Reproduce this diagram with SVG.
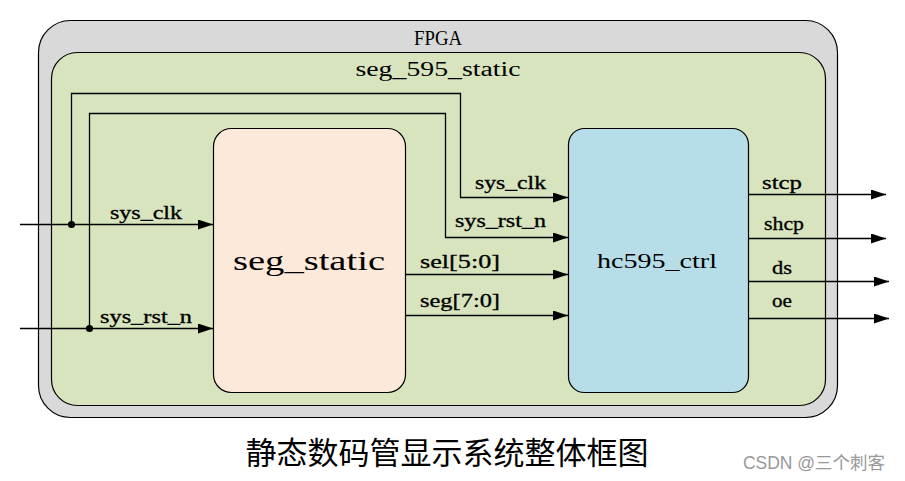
<svg xmlns="http://www.w3.org/2000/svg" width="905" height="481" viewBox="0 0 905 481">
<style>
.box{stroke:#000;stroke-width:1.2}
.w{fill:none;stroke:#000;stroke-width:1.3}
.lbl{font-family:"Liberation Serif",serif;font-size:18px;fill:#000;font-weight:normal;stroke:#000;stroke-width:0.3}
.t{font-family:"Liberation Serif",serif;fill:#000;text-anchor:middle}
</style>
<defs>
<marker id="arr" markerUnits="userSpaceOnUse" markerWidth="16" markerHeight="11" refX="15" refY="5" orient="auto">
<path d="M0,0 L15,5 L0,10 z" fill="#000"/>
</marker>
</defs>
<rect width="905" height="481" fill="#fff"/>
<g id="fpga">
<rect class="box" x="38.5" y="20.5" width="799" height="397" rx="32" fill="#d9d9d9"/>
<text class="t" x="438" y="45" font-size="20" textLength="48" lengthAdjust="spacingAndGlyphs">FPGA</text>
</g>
<g id="seg_595_static">
<rect class="box" x="51.5" y="52.5" width="774" height="353" rx="26" fill="#d7e4bd"/>
<text class="t" x="438" y="76" font-size="20" textLength="165" lengthAdjust="spacingAndGlyphs">seg_595_static</text>
</g>
<g id="seg_static">
<rect class="box" x="213.5" y="128.5" width="192" height="264" rx="18" fill="#fde9d9"/>
<text class="t" x="309" y="270" font-size="28" textLength="152" lengthAdjust="spacingAndGlyphs">seg_static</text>
</g>
<g id="hc595_ctrl">
<rect class="box" x="568.5" y="128.5" width="180" height="264" rx="16" fill="#b7dde8"/>
<text class="t" x="657" y="268" font-size="22" textLength="120" lengthAdjust="spacingAndGlyphs">hc595_ctrl</text>
</g>
<g id="connectors">
<path class="w" d="M20,224.5 H213" marker-end="url(#arr)"/>
<path class="w" d="M20,328.5 H213" marker-end="url(#arr)"/>
<path class="w" d="M71.5,224.5 V93.5 H460.5 V197.5 H568" marker-end="url(#arr)"/>
<path class="w" d="M89.5,328.5 V113.5 H445.5 V237.5 H568" marker-end="url(#arr)"/>
<circle cx="71.5" cy="224.5" r="3.6" fill="#000"/>
<circle cx="89.5" cy="328.5" r="3.6" fill="#000"/>
<path class="w" d="M405,274.5 H568" marker-end="url(#arr)"/>
<path class="w" d="M405,315.5 H568" marker-end="url(#arr)"/>
<path class="w" d="M748,194.5 H886" marker-end="url(#arr)"/>
<path class="w" d="M748,238.5 H886" marker-end="url(#arr)"/>
<path class="w" d="M748,281.5 H889" marker-end="url(#arr)"/>
<path class="w" d="M748,318.5 H889" marker-end="url(#arr)"/>
<text class="lbl" x="110" y="219" textLength="72" lengthAdjust="spacingAndGlyphs">sys_clk</text>
<text class="lbl" x="100" y="323" textLength="92" lengthAdjust="spacingAndGlyphs">sys_rst_n</text>
<text class="lbl" x="475" y="189" textLength="71" lengthAdjust="spacingAndGlyphs">sys_clk</text>
<text class="lbl" x="455" y="227" textLength="91" lengthAdjust="spacingAndGlyphs">sys_rst_n</text>
<text class="lbl" x="420" y="268" textLength="80" lengthAdjust="spacingAndGlyphs">sel[5:0]</text>
<text class="lbl" x="420" y="307" textLength="80" lengthAdjust="spacingAndGlyphs">seg[7:0]</text>
<text class="lbl" x="762" y="189" textLength="40" lengthAdjust="spacingAndGlyphs">stcp</text>
<text class="lbl" x="764" y="230" textLength="40" lengthAdjust="spacingAndGlyphs">shcp</text>
<text class="lbl" x="772" y="274" textLength="20" lengthAdjust="spacingAndGlyphs">ds</text>
<text class="lbl" x="772" y="307" textLength="20" lengthAdjust="spacingAndGlyphs">oe</text>
</g>
<text x="447" y="464" text-anchor="middle" font-size="31" style="font-family:'Noto Sans CJK SC',sans-serif">静态数码管显示系统整体框图</text>
<text x="814" y="469" text-anchor="middle" font-size="17.5" fill="#999" style="font-family:'Liberation Sans','Noto Sans CJK SC',sans-serif">CSDN @三个刺客</text>
</svg>
